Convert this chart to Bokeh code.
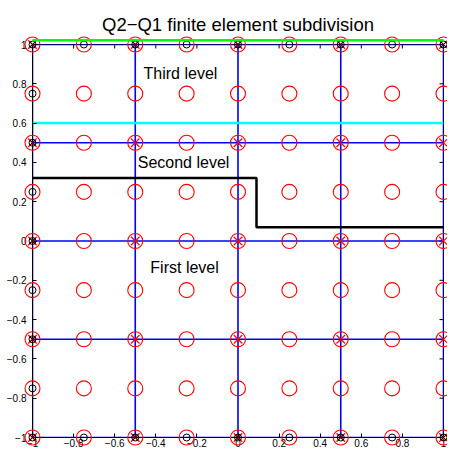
import math
from bokeh.plotting import figure
from bokeh.models import FixedTicker, Range1d
from bokeh.embed import file_html
from bokeh.resources import INLINE
from bokeh.core.properties import value

# ---- data ----
q2_nodes = [-1, -0.75, -0.5, -0.25, 0, 0.25, 0.5, 0.75, 1]
q1_nodes = [-1, -0.5, 0, 0.5, 1]
tick_vals = [-1, -0.8, -0.6, -0.4, -0.2, 0, 0.2, 0.4, 0.6, 0.8, 1]
tick_text = ["\u22121", "\u22120.8", "\u22120.6", "\u22120.4", "\u22120.2", "0",
             "0.2", "0.4", "0.6", "0.8", "1"]

third_x = [-1, 1]
third_y = [1.022, 1.022]
second_x = [-1, 1]
second_y = [0.6, 0.6]
first_x = [-1, 0.09, 0.09, 1]
first_y = [0.32, 0.32, 0.07, 0.07]

label_text = ["Third level", "Second level", "First level"]
label_x = [-0.28, -0.265, -0.26]
label_y = [0.85, 0.40, -0.135]

title_text = "Q2\u2212Q1 finite element subdivision"

# ---- derived node sets ----
qx = [x for y in q2_nodes for x in q2_nodes]
qy = [y for y in q2_nodes for x in q2_nodes]
vx = [x for y in q1_nodes for x in q1_nodes]
vy = [y for y in q1_nodes for x in q1_nodes]
bq = [(x, y) for x, y in zip(qx, qy) if x == -1 or abs(y) == 1]
bv = [(x, y) for x, y in zip(vx, vy) if x == -1 or abs(y) == 1]

FONT = "Liberation Sans"
x0, x1 = q1_nodes[0], q1_nodes[-1]
y0, y1 = q1_nodes[0], q1_nodes[-1]

p = figure(width=447, height=449, x_range=Range1d(x0, x1), y_range=Range1d(y0, y1),
           output_backend="svg", toolbar_location=None,
           min_border_left=32, min_border_right=4, min_border_top=44, min_border_bottom=10)
p.title.text = title_text
p.title.align = "center"
p.title.text_font = FONT
p.title.text_font_size = "18.5px"
p.title.text_font_style = "normal"
p.title.text_color = "black"
p.title.standoff = 20
p.grid.visible = False
p.outline_line_color = "black"
p.background_fill_color = "white"
p.border_fill_color = "white"

for ax in [p.xaxis[0], p.yaxis[0]]:
    ax.ticker = FixedTicker(ticks=tick_vals)
    ax.major_label_overrides = dict(zip(tick_vals, tick_text))
    ax.major_tick_in = 4
    ax.major_tick_out = 0
    ax.major_tick_line_color = "black"
    ax.minor_tick_line_color = None
    ax.major_label_text_font = FONT
    ax.major_label_text_font_size = "10px"
    ax.major_label_text_color = "black"
    ax.axis_line_color = "black"
p.xaxis[0].major_label_standoff = 1
p.yaxis[0].major_label_standoff = 6

# box ticks on top and right edges (half of each dash is clipped by the frame)
p.scatter(tick_vals, [y1] * len(tick_vals), marker="dash", angle=math.pi / 2, size=8,
          line_color="black", line_width=1)
p.scatter([x1] * len(tick_vals), tick_vals, marker="dash", size=8,
          line_color="black", line_width=1)

# blue mesh
mesh_xs = [[v, v] for v in q1_nodes] + [[x0, x1] for v in q1_nodes]
mesh_ys = [[y0, y1] for v in q1_nodes] + [[v, v] for v in q1_nodes]
p.multi_line(mesh_xs, mesh_ys, line_color="#0000ff", line_width=1.6)

# nodes
p.scatter(qx, qy, marker="circle", size=15, fill_color=None, line_color="#ff0000",
          line_width=1.1, level="overlay")
p.scatter(vx, vy, marker="x", size=12, line_color="#ff0000", line_width=1.2, level="overlay")
p.scatter([a for a, b in bq], [b for a, b in bq], marker="circle", size=7, fill_color=None,
          line_color="black", line_width=1, level="overlay")
p.scatter([a for a, b in bv], [b for a, b in bv], marker="x", size=7,
          line_color="black", line_width=1, level="overlay")

# subdivision levels
p.line(third_x, third_y, line_color="#00ff00", line_width=2.5, level="overlay")
p.line(second_x, second_y, line_color="#00ffff", line_width=2.5)
p.line(first_x, first_y, line_color="black", line_width=2.5)

p.text(label_x, label_y, text=label_text, text_font=value(FONT), text_font_size="16px",
       text_align="center", text_baseline="middle", text_color="black")

open("out.html", "w").write(file_html(p, INLINE))
